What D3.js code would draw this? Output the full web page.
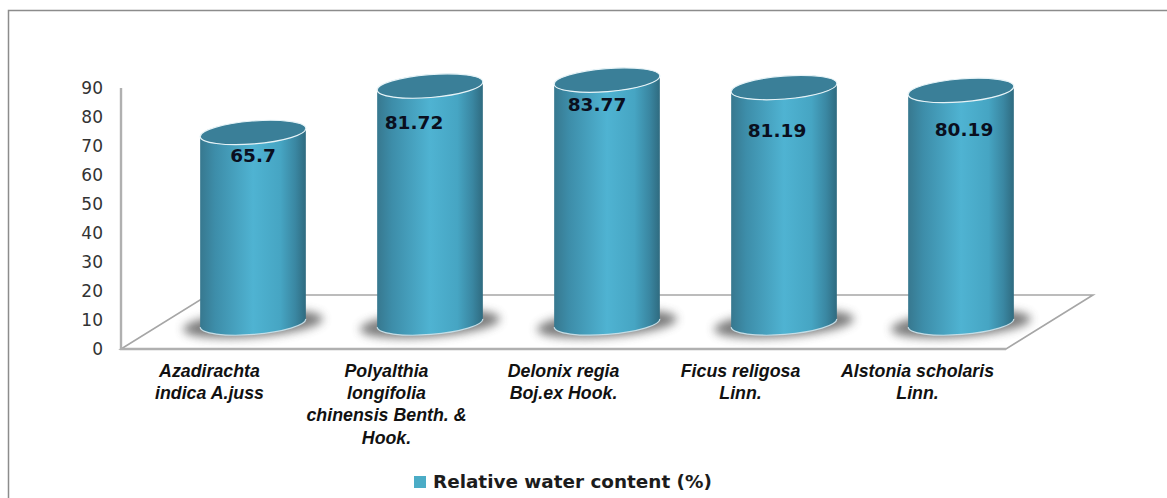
<!DOCTYPE html>
<html>
<head>
<meta charset="utf-8">
<title>Relative water content</title>
<script src="https://cdn.jsdelivr.net/npm/d3@7"></script>
<style>
  html, body { margin: 0; padding: 0; background: #fff; }
  svg { display: block; }
  .y-axis text { font: 17px "DejaVu Sans", sans-serif; fill: #333; }
  .x-axis text { font: italic bold 17.8px "Liberation Sans", sans-serif; fill: #111; }
  .val { font: bold 18.5px "DejaVu Sans", sans-serif; fill: #0a0f1e; text-anchor: middle; }
  .legend { font: bold 18.4px "DejaVu Sans", sans-serif; fill: #1c1c1c; }
</style>
</head>
<body>
<div id="chart"></div>
<script>
const categories = [
  'Azadirachta\nindica A.juss',
  'Polyalthia\nlongifolia\nchinensis Benth. &\nHook.',
  'Delonix regia\nBoj.ex Hook.',
  'Ficus religosa\nLinn.',
  'Alstonia scholaris\nLinn.'
];
const values = [65.7, 81.72, 83.77, 81.19, 80.19];
const valueLabels = ['65.7', '81.72', '83.77', '81.19', '80.19'];
const yTicks = [0, 10, 20, 30, 40, 50, 60, 70, 80, 90];
const seriesName = 'Relative water content (%)';

const width = 1167, height = 498;
const svg = d3.select('#chart').append('svg').attr('width', width).attr('height', height);
const defs = svg.append('defs');

// side of the cylinder
const grad = defs.append('linearGradient').attr('id', 'cyl');
[[0, '#37788f'], [0.14, '#3d8da9'], [0.5, '#4fb3d2'], [0.76, '#46a5c3'], [0.9, '#3a87a2'], [1, '#2f6b80']]
  .forEach(([o, c]) => grad.append('stop').attr('offset', o).attr('stop-color', c));
defs.append('filter').attr('id', 'blur').attr('x', '-30%').attr('y', '-80%').attr('width', '160%').attr('height', '260%')
  .append('feGaussianBlur').attr('stdDeviation', 5);

// outer frame runs off the right and bottom of the picture
svg.append('path').attr('d', `M8.5,${height}V10.5H${width}`)
  .attr('fill', 'none').attr('stroke', '#8c8c8c').attr('stroke-width', 1.5);

const x = d3.scaleBand().domain(categories).range([121, 1006]);
const y = d3.scaleLinear().domain([0, 90]).range([349, 88]);

// 3d floor depth
const depthX = 87, depthY = -54;
const bx = d => x(d) + x.bandwidth() / 2 + depthX / 2;
const by = v => y(v) + depthY / 2 + 1;

// floor and wall
const floor = [
  [x.range()[0], y(0)],
  [x.range()[1], y(0)],
  [x.range()[1] + depthX, y(0) + depthY],
  [x.range()[0] + depthX, y(0) + depthY]
];
svg.append('path').attr('d', d3.line()(floor) + 'Z')
  .attr('fill', 'none').attr('stroke', '#a6a6a6').attr('stroke-width', 1.6);
svg.append('path').attr('d', `M${floor[0][0]},${y(90)}V${y(0)}H${floor[1][0]}`)
  .attr('fill', 'none').attr('stroke', '#b0b0b0').attr('stroke-width', 2.4);

// axes
svg.append('g').attr('class', 'y-axis')
  .attr('transform', 'translate(121,0)')
  .call(d3.axisLeft(y).tickValues(yTicks).tickSize(0).tickPadding(18))
  .call(g => g.select('.domain').remove());

const xAxis = svg.append('g').attr('class', 'x-axis')
  .attr('transform', `translate(0,${y(0)})`)
  .call(d3.axisBottom(x).tickSize(0))
  .call(g => g.select('.domain').remove());
xAxis.selectAll('text').each(function(d) {
  const t = d3.select(this).text(null).attr('y', 0).attr('dy', null);
  d.split('\n').forEach((line, i) => {
    t.append('tspan').attr('x', 0).attr('y', 28 + i * 22.2).text(line);
  });
});

// cylinders
const rx = 53, ry = 11.5, tilt = 4.5;
const ox = rx * Math.cos(tilt * Math.PI / 180), oy = rx * Math.sin(tilt * Math.PI / 180);
const data = categories.map((c, i) => ({ c, v: values[i], label: valueLabels[i], i }));

const cyl = svg.selectAll('g.cyl').data(data).join('g').attr('class', 'cyl');

cyl.append('ellipse')
  .attr('transform', d => `translate(${bx(d.c)},${by(0) + 1}) rotate(${-tilt})`)
  .attr('rx', 70).attr('ry', 13)
  .attr('fill', '#4a4a4a').attr('opacity', 0.72)
  .attr('filter', 'url(#blur)');

cyl.append('path')
  .attr('d', d => {
    const c = bx(d.c), t = by(d.v), b = by(0);
    return `M${c - ox},${t + oy}L${c - ox},${b + oy}` +
      `A${rx},${ry} ${-tilt} 0 0 ${c + ox},${b - oy}` +
      `L${c + ox},${t - oy}` +
      `A${rx},${ry} ${-tilt} 0 1 ${c - ox},${t + oy}Z`;
  })
  .attr('fill', 'url(#cyl)');

// pale rim along the bottom edge
cyl.append('path')
  .attr('d', d => {
    const c = bx(d.c), b = by(0);
    return `M${c - ox},${b + oy}A${rx},${ry} ${-tilt} 0 0 ${c + ox},${b - oy}`;
  })
  .attr('fill', 'none').attr('stroke', '#c4dde6').attr('stroke-width', 1.2);

cyl.append('ellipse')
  .attr('transform', d => `translate(${bx(d.c)},${by(d.v)}) rotate(${-tilt})`)
  .attr('rx', rx).attr('ry', ry)
  .attr('fill', '#3a7f98')
  .attr('stroke', '#e6f3f7').attr('stroke-width', 1.2);

// value labels were dragged by hand in the original, so each has its own nudge
const nudge = [[0, 23], [-16, 36], [-10, 24], [-7, 43], [3, 39]];
cyl.append('text').attr('class', 'val')
  .attr('x', d => bx(d.c) + nudge[d.i][0])
  .attr('y', d => by(d.v) + nudge[d.i][1] + 6.5)
  .text(d => d.label);

// legend
svg.append('rect').attr('x', 414).attr('y', 476).attr('width', 12).attr('height', 12).attr('fill', '#4bacc6');
svg.append('text').attr('class', 'legend').attr('x', 433).attr('y', 488).text(seriesName);
</script>
</body>
</html>
